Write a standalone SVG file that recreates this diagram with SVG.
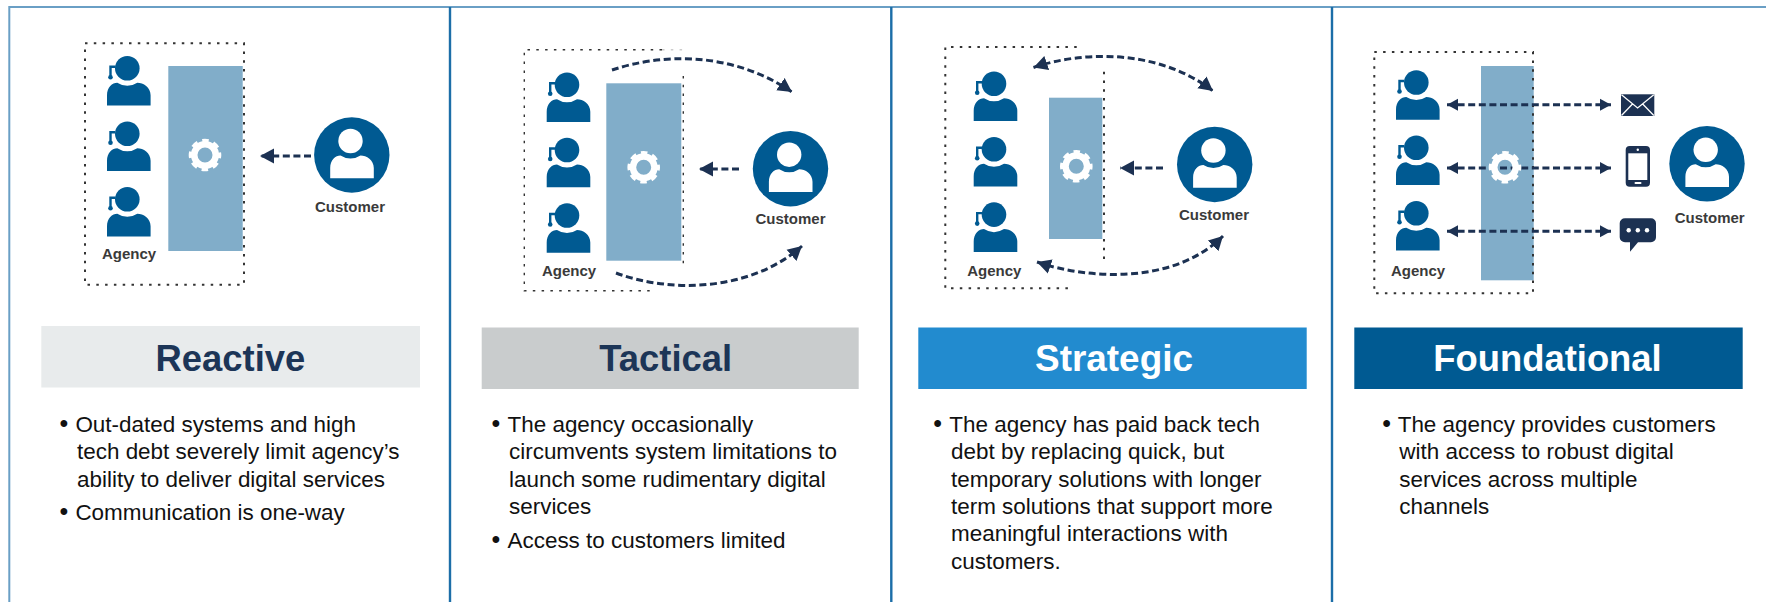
<svg xmlns="http://www.w3.org/2000/svg" width="1766" height="602" viewBox="0 0 1766 602">
<style>
text{font-family:"Liberation Sans",Arial,sans-serif}
.lbl{font-size:15px;font-weight:700;fill:#3a3a3a;text-anchor:middle}
.hd{font-size:36.4px;font-weight:700;text-anchor:middle}
.nv{fill:#1c3557}.wh{fill:#fff}
.body{font-size:22.45px;fill:#111}
.bul{font-size:25px;fill:#111}
.bar{fill:#81adc9}
.dot{fill:none;stroke:#333;stroke-width:2;stroke-dasharray:2.5 6.3}
.dot2{fill:none;stroke:#333;stroke-width:1.4;stroke-dasharray:2.5 6.3}
.pl{stroke:#1c6ea8;stroke-width:2.4;fill:none}
.c{fill:none;stroke:#1c3152;stroke-width:3;stroke-dasharray:7 3.6}
.big{marker-end:url(#ah)}
.two{marker-start:url(#ah);marker-end:url(#ah)}
.sm{marker-start:url(#as);marker-end:url(#as)}
</style>
<defs>
<marker id="ah" markerUnits="userSpaceOnUse" markerWidth="16" markerHeight="17" refX="14" refY="8" orient="auto-start-reverse"><path d="M0,0.5L14,8L0,15.5Z" fill="#1c3152"/></marker>
<marker id="as" markerUnits="userSpaceOnUse" markerWidth="13" markerHeight="14" refX="11" refY="6.5" orient="auto-start-reverse"><path d="M0,0.5L11,6.5L0,12.5Z" fill="#1c3152"/></marker>
<path id="shape" d="M-20.3,37.3V27C-20.3,19 -15,14.5 -10,14.5A18,18 0 0 0 10,14.5C16,14.5 23.3,19 23.3,27V37.3Z"/>
<g id="person" fill="#005a92">
<circle r="12.3"/>
<use href="#shape"/>
<path d="M-12,-1.5H-16.8V9" fill="none" stroke="#005a92" stroke-width="2.4"/>
<circle cx="-16.8" cy="9" r="2.3"/>
</g>
<g id="customer">
<circle cx="1.3" cy="14" r="37.7" fill="#005a92"/>
<g fill="#fff"><circle r="12.2"/><use href="#shape"/></g>
</g>
<g id="gear">
<circle r="10.75" fill="none" stroke="#fff" stroke-width="6.5"/>
<circle r="14" fill="none" stroke="#fff" stroke-width="4.6" stroke-dasharray="6.2 4.8" stroke-dashoffset="3.1"/>
</g>
</defs>
<rect width="1766" height="602" fill="#fff"/>
<g id="frame">
<path d="M9.3,602V7H1766" fill="none" stroke="#6a9fc5" stroke-width="2"/>
<path class="pl" d="M450,7V602M891.3,7V602M1332,7V602"/>
</g>
<g id="systems">
<rect class="bar" x="168.3" y="66" width="74.4" height="185"/>
<rect class="bar" x="606.3" y="83.3" width="75" height="177.4"/>
<rect class="bar" x="1049" y="97.7" width="53.3" height="141.3"/>
<rect class="bar" x="1481" y="66" width="52.7" height="214.3"/>
</g>
<g id="boundaries">
<rect class="dot" x="85" y="43.3" width="159" height="241.4"/>
<path class="dot2" d="M662,49.7H524.3V290.7H650M683.3,76V265.3"/>
<path d="M662,49.7H684" fill="none" stroke="#ccc" stroke-width="1.4" stroke-dasharray="2.5 6.3"/>
<path class="dot" d="M1076.7,47H945.3V288.3H1070M1104,71.7V261.7"/>
<rect class="dot" x="1374.3" y="52" width="158.7" height="241.3"/>
</g>
<g id="connectors">
<path class="c big" d="M311,156H260"/>
<path class="c big" d="M739,169H699"/>
<path class="c big" d="M612,70C660,54 730,50 792,92"/>
<path class="c big" d="M616,273C670,293 750,292 802,246"/>
<path class="c big" d="M1163,168H1120"/>
<path class="c two" d="M1033.5,67.5C1085,50 1160,50 1213,91"/>
<path class="c two" d="M1037,262C1090,280 1175,284 1223,236"/>
<path class="c sm" d="M1447,104.7H1611"/>
<path class="c sm" d="M1447,168H1611"/>
<path class="c sm" d="M1447,231.3H1611"/>
</g>
<g id="reactive">
<g id="reactive-agency"><use href="#person" x="127.3" y="68.3"/><use href="#person" x="127.3" y="133.7"/><use href="#person" x="127.3" y="199.2"/><use href="#gear" x="205" y="155"/><text class="lbl" x="129" y="259.2">Agency</text></g>
<g id="reactive-customer"><use href="#customer" x="350.5" y="141"/><text class="lbl" x="350" y="212">Customer</text></g>
<rect x="41.3" y="326" width="378.7" height="61.5" fill="#e8ebec"/>
<text class="hd nv" x="230.4" y="371">Reactive</text>
<text class="bul" x="59.6" y="432">•</text><text class="body" x="75.4" y="432">Out-dated systems and high</text>
<text class="body" x="77" y="459.2">tech debt severely limit agency’s</text>
<text class="body" x="77" y="486.6">ability to deliver digital services</text>
<text class="bul" x="59.6" y="520">•</text><text class="body" x="75.4" y="520">Communication is one-way</text>
</g>
<g id="tactical">
<g id="tactical-agency"><use href="#person" x="567" y="84.8"/><use href="#person" x="567" y="150"/><use href="#person" x="567" y="215.5"/><use href="#gear" x="643.7" y="167.3"/><text class="lbl" x="569" y="275.8">Agency</text></g>
<g id="tactical-customer"><use href="#customer" x="789.2" y="154.7"/><text class="lbl" x="790.5" y="224.3">Customer</text></g>
<rect x="481.7" y="327.5" width="377" height="61.5" fill="#c9cccd"/>
<text class="hd nv" x="665.7" y="371">Tactical</text>
<text class="bul" x="491.6" y="432">•</text><text class="body" x="507.5" y="432">The agency occasionally</text>
<text class="body" x="509" y="459.2">circumvents system limitations to</text>
<text class="body" x="509" y="486.6">launch some rudimentary digital</text>
<text class="body" x="509" y="514">services</text>
<text class="bul" x="491.6" y="547.5">•</text><text class="body" x="507.5" y="547.5">Access to customers limited</text>
</g>
<g id="strategic">
<g id="strategic-agency"><use href="#person" x="994" y="83.8"/><use href="#person" x="994" y="149.2"/><use href="#person" x="994" y="214.6"/><use href="#gear" x="1076.3" y="166.3"/><text class="lbl" x="994.3" y="275.8">Agency</text></g>
<g id="strategic-customer"><use href="#customer" x="1213.4" y="150.5"/><text class="lbl" x="1214" y="220">Customer</text></g>
<rect x="918.3" y="327.5" width="388.4" height="61.5" fill="#228bcf"/>
<text class="hd wh" x="1114" y="371" style="font-size:36.9px">Strategic</text>
<text class="bul" x="933.3" y="432">•</text><text class="body" x="949.3" y="432">The agency has paid back tech</text>
<text class="body" x="951" y="459.2">debt by replacing quick, but</text>
<text class="body" x="951" y="486.6">temporary solutions with longer</text>
<text class="body" x="951" y="514">term solutions that support more</text>
<text class="body" x="951" y="541.4">meaningful interactions with</text>
<text class="body" x="951" y="569">customers.</text>
</g>
<g id="foundational">
<g id="foundational-agency"><use href="#person" x="1416.3" y="82.5"/><use href="#person" x="1416.3" y="147.8"/><use href="#person" x="1416.3" y="213.2"/><use href="#gear" x="1505" y="167.3"/><text class="lbl" x="1418" y="275.8">Agency</text></g>
<g id="channel-email"><rect x="1621" y="94.3" width="33.3" height="21.7" fill="#1c3152"/><path d="M1621.5,94.8L1637.6,108L1653.8,94.8M1621.5,115.5L1632.5,104M1653.8,115.5L1642.7,104" fill="none" stroke="#fff" stroke-width="1.3"/></g>
<g id="channel-phone"><rect x="1625.7" y="146" width="24.3" height="40.7" rx="4" fill="#1c3152"/><rect x="1628.3" y="153.3" width="19" height="26.7" fill="#fff"/><circle cx="1637.8" cy="149.8" r="1.2" fill="#fff"/><rect x="1634.5" y="182" width="7" height="2" rx="1" fill="#fff"/></g>
<g id="channel-chat"><path d="M1625,218.3H1651A5,5 0 0 1 1656,223.3V237.3A5,5 0 0 1 1651,242.3H1638L1630,251.7V242.3H1625A5.3,5 0 0 1 1619.7,237.3V223.3A5.3,5 0 0 1 1625,218.3Z" fill="#1c3152"/><circle cx="1628.7" cy="230.3" r="2.2" fill="#fff"/><circle cx="1637.8" cy="230.3" r="2.2" fill="#fff"/><circle cx="1647" cy="230.3" r="2.2" fill="#fff"/></g>
<g id="foundational-customer"><use href="#customer" x="1705.7" y="149.8"/><text class="lbl" x="1709.7" y="222.6">Customer</text></g>
<rect x="1354.3" y="327.5" width="388.4" height="61.5" fill="#005a92"/>
<text class="hd wh" x="1547.5" y="371">Foundational</text>
<text class="bul" x="1382.3" y="432">•</text><text class="body" x="1397.7" y="432">The agency provides customers</text>
<text class="body" x="1399.3" y="459.2">with access to robust digital</text>
<text class="body" x="1399.3" y="486.6">services across multiple</text>
<text class="body" x="1399.3" y="514">channels</text>
</g>
</svg>
